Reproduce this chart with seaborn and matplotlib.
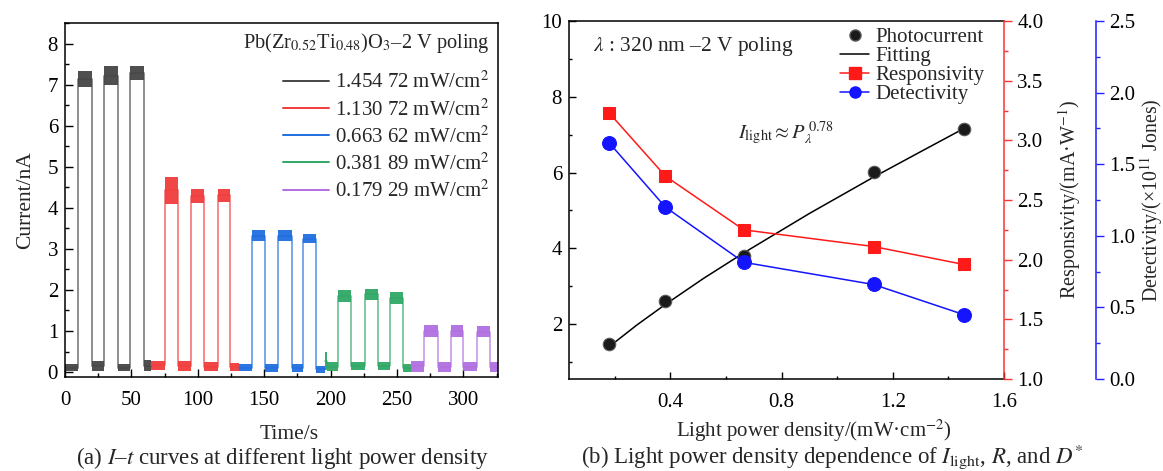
import matplotlib
matplotlib.use("Agg")
import matplotlib.pyplot as plt
from matplotlib.ticker import MultipleLocator, FormatStrFormatter
from matplotlib.lines import Line2D
import seaborn as sns

# ---------------- data: panel (a) I-t curves ----------------
# switching times (s) and per-interval current band (lo, hi) in nA
t_145 = [0, 9.5, 20, 29.5, 40, 48.8, 59.5, 65]
lo_145 = [0.02, 6.95, 0.02, 6.98, 0.02, 7.10, 0.02]
hi_145 = [0.20, 7.32, 0.28, 7.45, 0.20, 7.45, 0.30]

t_113 = [65, 75.5, 85, 95, 104.5, 115, 124.5, 130.7]
lo_113 = [0.05, 4.10, 0.02, 4.12, 0.02, 4.15, 0.02]
hi_113 = [0.28, 4.75, 0.26, 4.45, 0.25, 4.45, 0.22]

t_066 = [130.7, 140.5, 150.5, 160, 170.8, 179.5, 189, 195.7]
lo_066 = [0.02, 3.20, 0.00, 3.20, 0.00, 3.15, -0.02]
hi_066 = [0.20, 3.45, 0.20, 3.45, 0.20, 3.35, 0.15]

t_038 = [195.7, 197, 205.5, 215.5, 225.5, 235.5, 245, 254.5, 260.8]
lo_038 = [0.05, 0.02, 1.70, 0.05, 1.75, 0.05, 1.65, 0.00]
hi_038 = [0.50, 0.25, 2.00, 0.25, 2.03, 0.25, 1.95, 0.20]

t_018 = [260.8, 270.5, 280.5, 290.5, 300, 310, 320, 326]
lo_018 = [0.00, 0.85, 0.00, 0.85, 0.02, 0.85, 0.00]
hi_018 = [0.28, 1.15, 0.25, 1.15, 0.25, 1.12, 0.25]

it_labels = ["1.454 72 mW/cm$^{2}$", "1.130 72 mW/cm$^{2}$", "0.663 62 mW/cm$^{2}$",
             "0.381 89 mW/cm$^{2}$", "0.179 29 mW/cm$^{2}$"]
it_colors = ["#454545", "#f03c3c", "#1f6fe0", "#2fa866", "#b070e0"]

# ---------------- data: panel (b) ----------------
power = [0.17929, 0.38189, 0.66362, 1.13072, 1.45472]
photocurrent = [1.47, 2.62, 3.80, 6.02, 7.16]
responsivity = [3.23, 2.70, 2.25, 2.11, 1.96]
detectivity = [1.65, 1.20, 0.815, 0.66, 0.45]
fit_x = [0.179, 0.28, 0.382, 0.52, 0.664, 0.90, 1.131, 1.30, 1.455]
fit_y = [1.40, 1.98, 2.52, 3.21, 3.88, 4.92, 5.88, 6.55, 7.16]

# ---------------- style ----------------
sns.set_theme(style="ticks")
plt.rcParams["font.family"] = ["Liberation Serif", "DejaVu Serif"]
plt.rcParams["mathtext.fontset"] = "stix"
plt.rcParams["axes.unicode_minus"] = False
FT = 15      # tick labels
FL = 15.5    # axis labels
FG = 15      # legends / annotations
FC = 16.5    # captions

fig = plt.figure(figsize=(11.63, 4.71), dpi=100)

# ================= panel (a) =================
axa = fig.add_axes([65 / 1163, 1 - 377 / 471, 433 / 1163, 354 / 471])
series = [(t_145, lo_145, hi_145), (t_113, lo_113, hi_113), (t_066, lo_066, hi_066),
          (t_038, lo_038, hi_038), (t_018, lo_018, hi_018)]
for (t, lo, hi), col, lab in zip(series, it_colors, it_labels):
    mid = [(a + b) / 2 for a, b in zip(lo, hi)]
    sns.lineplot(x=t, y=mid + [mid[-1]], drawstyle="steps-post", color=col,
                 lw=1.2, alpha=0.7, ax=axa, sort=False, legend=False)
    axa.fill_between(t, lo + [lo[-1]], hi + [hi[-1]], step="post",
                     color=col, lw=0, alpha=0.95)

axa.set_xlim(0, 326)
axa.set_ylim(-0.12, 8.5)
axa.xaxis.set_major_locator(MultipleLocator(50))
axa.xaxis.set_minor_locator(MultipleLocator(25))
axa.yaxis.set_major_locator(MultipleLocator(1))
axa.yaxis.set_minor_locator(MultipleLocator(0.5))
axa.tick_params(which="both", direction="in", labelsize=FT, colors="black")
axa.tick_params(which="major", length=6, width=1)
axa.tick_params(which="minor", length=3, width=1)
axa.tick_params(axis="x", pad=10)
axa.tick_params(axis="y", pad=5)
for s in axa.spines.values():
    s.set_linewidth(1.1)
    s.set_color("black")
axa.set_xlabel("Time/s", fontsize=FL, labelpad=11)
axa.xaxis.label.set_x(0.517)
axa.set_ylabel("Current/nA", fontsize=FL)
axa.yaxis.set_label_coords(-0.069, 0.5)

axa.text(0.982, 0.9435, "Pb(Zr$_{0.52}$Ti$_{0.48}$)O$_{3}$–2 V poling",
         transform=axa.transAxes, ha="right", va="center", fontsize=FG - 0.3)
handles = [Line2D([], [], color=c, lw=1.4) for c in it_colors]
axa.legend(handles, it_labels, loc="upper right", frameon=False,
           fontsize=FG, labelspacing=0.28, handlelength=2.2, handletextpad=0.3,
           borderaxespad=0.0, bbox_to_anchor=(1.0, 0.886))

# ================= panel (b) =================
axb = fig.add_axes([569 / 1163, 1 - 379 / 471, 435 / 1163, 358 / 471])
sns.lineplot(x=fit_x, y=fit_y, color="black", lw=1.1, ax=axb, sort=False)
axb.plot(power, photocurrent, "o", ms=9, mfc="#1a1a1a", mec="#5a5a5a", mew=0.8)
axb.set_xlim(0.035, 1.6)
axb.set_ylim(0.55, 10)
axb.xaxis.set_major_locator(MultipleLocator(0.4))
axb.xaxis.set_minor_locator(MultipleLocator(0.2))
axb.yaxis.set_major_locator(MultipleLocator(2))
axb.yaxis.set_minor_locator(MultipleLocator(1))
axb.tick_params(which="both", direction="in", labelsize=FT, colors="black")
axb.tick_params(which="major", length=5, width=1)
axb.tick_params(which="minor", length=2.5, width=1)
axb.tick_params(axis="x", pad=10)
axb.tick_params(axis="y", pad=5)
axb.set_xticks([0.4, 0.8, 1.2, 1.6])
for s in axb.spines.values():
    s.set_linewidth(1.1)
    s.set_color("black")
axb.spines["right"].set_visible(False)
axb.set_xlabel("Light power density/(mW·cm$^{-2}$)", fontsize=FL - 0.5, labelpad=4)
axb.xaxis.label.set_x(0.562)

axr = axb.twinx()
sns.lineplot(x=power, y=responsivity, color="#ff1a1a", lw=1.1, marker="s", ms=9,
             mec="#ff1a1a", ax=axr, sort=False)
axr.set_ylim(1.0, 4.0)
axr.yaxis.set_major_locator(MultipleLocator(0.5))
axr.yaxis.set_minor_locator(MultipleLocator(0.25))
axr.yaxis.set_major_formatter(FormatStrFormatter("%.1f"))
axr.tick_params(which="both", direction="out", labelsize=FT, colors="#ff3030",
                labelcolor="black")
axr.tick_params(which="major", length=6, width=1)
axr.tick_params(which="minor", length=3, width=1)
for k in ["left", "top", "bottom"]:
    axr.spines[k].set_visible(False)
axr.spines["right"].set_color("#ff3030")
axr.spines["right"].set_linewidth(1.1)
axr.set_ylabel("Responsivity/(mA·W$^{-1}$)", fontsize=FG - 0.5)
axr.yaxis.set_label_coords(1.12, 0.5)

axd = axb.twinx()
sns.lineplot(x=power, y=detectivity, color="#1414ff", lw=1.1, marker="o", ms=10,
             mec="#1414ff", ax=axd, sort=False)
axd.spines["right"].set_position(("outward", 66))
axd.set_ylim(0.0, 2.5)
axd.yaxis.set_major_locator(MultipleLocator(0.5))
axd.yaxis.set_minor_locator(MultipleLocator(0.25))
axd.yaxis.set_major_formatter(FormatStrFormatter("%.1f"))
axd.tick_params(which="both", direction="out", labelsize=FT, colors="#2020ff",
                labelcolor="black")
axd.tick_params(which="major", length=6, width=1)
axd.tick_params(which="minor", length=3, width=1)
for k in ["left", "top", "bottom"]:
    axd.spines[k].set_visible(False)
axd.spines["right"].set_color("#2020ff")
axd.spines["right"].set_linewidth(1.1)
axd.set_ylabel("Detectivity/(×10$^{11}$ Jones)", fontsize=FG - 0.7)
axd.yaxis.set_label_coords(1.308, 0.5)

hb = [Line2D([], [], ls="", marker="o", ms=8, mfc="#1a1a1a", mec="#5a5a5a"),
      Line2D([], [], color="black", lw=1.1),
      Line2D([], [], color="#ff1a1a", lw=1.1, marker="s", ms=8),
      Line2D([], [], color="#1414ff", lw=1.1, marker="o", ms=8)]
axd.legend(hb, ["Photocurrent", "Fitting", "Responsivity", "Detectivity"],
           loc="upper right", frameon=False, fontsize=FG, labelspacing=-0.03,
           handlelength=1.4, handletextpad=0.3, borderaxespad=0.0,
           bbox_to_anchor=(0.975, 1.005))

axb.text(0.055, 0.93, r"$\lambda$ : 320 nm –2 V poling", transform=axb.transAxes,
         fontsize=FG + 0.4, va="center", ha="left")
axb.text(0.388, 0.687, r"$I_{\mathrm{light}} \approx P_{\lambda}^{\,0.78}$",
         transform=axb.transAxes, fontsize=FG - 0.3, va="center", ha="left")

# ---------------- captions ----------------
fig.text(282 / 1163, 1 - 458 / 471, "(a) $I$–$t$ curves at different light power density",
         ha="center", va="center", fontsize=FC)
fig.text(832 / 1163, 1 - 457 / 471,
         r"(b) Light power density dependence of $I_{\mathrm{light}}$, $R$, and $D^{*}$",
         ha="center", va="center", fontsize=FC)

fig.savefig("out.png", dpi=100)
